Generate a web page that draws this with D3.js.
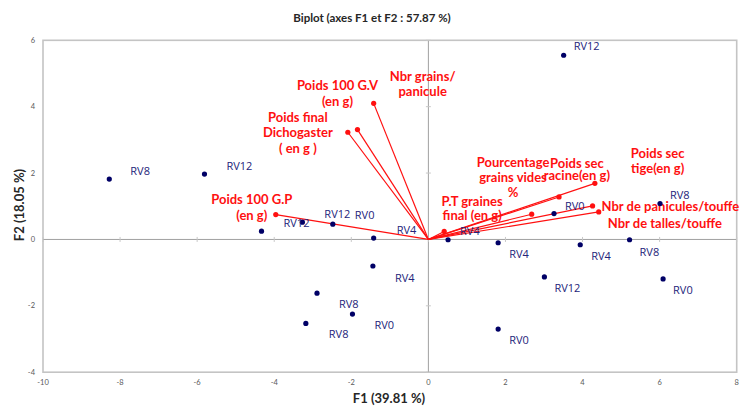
<!DOCTYPE html>
<html><head><meta charset="utf-8">
<script src="https://cdn.jsdelivr.net/npm/d3@7"></script>
<style>body{margin:0;background:#fff}svg{display:block}</style>
</head><body>
<svg id="chart" width="741" height="406"></svg>
<script>
// ---- data ----
const obsLabels = ["RV8","RV12","RV12","RV12","RV0","RV4","RV4","RV8","RV0","RV8",
                   "RV4","RV4","RV4","RV8","RV12","RV0","RV0","RV8","RV0","RV12"];
const obsF1 = [-8.28,-5.81,-4.33,-3.27,-2.48,-1.42,-1.44,-2.89,-1.97,-3.18,
               0.51,1.81,3.94,5.22,3.01,6.09,1.81,6.01,3.26,3.51];
const obsF2 = [1.82,1.97,0.25,0.52,0.46,0.04,-0.80,-1.62,-2.25,-2.53,
               -0.01,-0.10,-0.16,-0.01,-1.13,-1.19,-2.70,1.08,0.78,5.55];
const varLabels = [
  ["Nbr grains/","panicule"],
  ["Poids 100 G.V","(en g)"],
  ["Poids final","Dichogaster","( en g )"],
  ["Poids 100 G.P","(en g)"],
  ["P.T graines","final (en g)"],
  ["Pourcentage","grains vides","%"],
  ["Poids sec","racine(en g)"],
  ["Poids sec","tige(en g)"],
  ["Nbr de panicules/touffe"],
  ["Nbr de talles/touffe"]
];
const varF1 = [-1.42,-1.84,-2.09,-3.96,0.41,3.39,4.32,2.68,4.26,4.42];
const varF2 = [4.10,3.31,3.23,0.75,0.24,1.28,1.69,0.76,1.01,0.83];
const xTicks = [-10,-8,-6,-4,-2,0,2,4,6,8];
const yTicks = [-4,-2,0,2,4,6];
const title = "Biplot (axes F1 et F2 : 57.87 %)";
const xTitle = "F1 (39.81 %)";
const yTitle = "F2 (18.05 %)";

// ---- layout (label placement offsets, px) ----
const obsLabelOff = [[21,-8],[22,-8],[22,-8],[22,-8],[22,-9],[23,-8],[22,12],[22,11],[22,11],[23,11],
                     [12,-9],[11,11],[11,11],[10,12],[10,11],[10,11],[11,11],[10,-9],[11,-8],[10,-9]];
// [dx, dy of first line, anchor, line spacing]
const varLabelOff = [[49,-27,"middle",15],[-20,-44,"middle",16],[-50,-15,"middle",15.5],[-24,-15,"middle",16],
                     [28,-30,"middle",14.5],[-46,-34,"middle",15],[-18,-20,"middle",12.5],[126,-61,"middle",15],
                     [9,1,"start",15],[9,12,"start",15]];

const svg = d3.select("#chart");
const x = d3.scaleLinear().domain([-10,8]).range([43,736.7]);
const y = d3.scaleLinear().domain([-4,6]).range([372.2,40.3]);

// frame
svg.append("rect").attr("x",x(-10)).attr("y",y(6)).attr("width",x(8)-x(-10)).attr("height",y(-4)-y(6))
  .attr("fill","none").attr("stroke","#c4c4c4").attr("stroke-width",1.6);

// zero lines
svg.append("line").attr("x1",x(-10)).attr("x2",x(8)).attr("y1",y(0)).attr("y2",y(0)).attr("stroke","#a0a0a0").attr("stroke-width",1);
svg.append("line").attr("x1",x(0)).attr("x2",x(0)).attr("y1",y(-4)).attr("y2",y(6)).attr("stroke","#a0a0a0").attr("stroke-width",1);

// tick marks along zero lines
svg.append("g").selectAll("line").data(xTicks).join("line")
  .attr("x1",d=>x(d)).attr("x2",d=>x(d)).attr("y1",y(0)-2.5).attr("y2",y(0)+2.5).attr("stroke","#c8c8c8");
svg.append("g").selectAll("line").data(yTicks).join("line")
  .attr("x1",x(0)-2.5).attr("x2",x(0)+2.5).attr("y1",d=>y(d)).attr("y2",d=>y(d)).attr("stroke","#c8c8c8");

// tick labels
svg.append("g").selectAll("text").data(xTicks).join("text")
  .attr("x",d=>x(d)).attr("y",385).attr("text-anchor","middle")
  .attr("font-family","Lato, sans-serif").attr("font-size",7.5).attr("fill","#595959").text(d=>d);
svg.append("g").selectAll("text").data(yTicks).join("text")
  .attr("x",35).attr("y",d=>y(d)+2.5).attr("text-anchor","end")
  .attr("font-family","Lato, sans-serif").attr("font-size",7.5).attr("fill","#595959").text(d=>d);

// titles
svg.append("text").attr("x",372).attr("y",22).attr("text-anchor","middle")
  .attr("font-family","Lato, sans-serif").attr("font-weight","bold").attr("font-size",11.5).attr("fill","#262626").text(title);
svg.append("text").attr("x",389).attr("y",403).attr("text-anchor","middle")
  .attr("font-family","Lato, sans-serif").attr("font-weight","bold").attr("font-size",13).attr("fill","#262626").text(xTitle);
svg.append("text").attr("transform","translate(24,205) rotate(-90)").attr("text-anchor","middle")
  .attr("font-family","Lato, sans-serif").attr("font-weight","bold").attr("font-size",13).attr("fill","#262626").text(yTitle);

// vectors
const red = "#ff1010";
const vg = svg.append("g");
varF1.forEach((v,i)=>{
  vg.append("line").attr("x1",x(0)).attr("y1",y(0)).attr("x2",x(v)).attr("y2",y(varF2[i]))
    .attr("stroke",red).attr("stroke-width",1.2);
  vg.append("circle").attr("cx",x(v)).attr("cy",y(varF2[i])).attr("r",2.6).attr("fill",red);
});

// observations
const og = svg.append("g");
obsF1.forEach((v,i)=>{
  og.append("circle").attr("cx",x(v)).attr("cy",y(obsF2[i])).attr("r",2.6).attr("fill","#000066");
});
obsF1.forEach((v,i)=>{
  og.append("text").attr("x",x(v)+obsLabelOff[i][0]).attr("y",y(obsF2[i])+obsLabelOff[i][1]+4)
    .attr("font-family","Open Sans, sans-serif").attr("font-size",11).attr("fill","#24247a").text(obsLabels[i]);
});

// variable labels
varF1.forEach((v,i)=>{
  const [dx,dy,anchor,ls] = varLabelOff[i];
  const t = vg.append("text").attr("text-anchor",anchor)
    .attr("font-family","Lato, sans-serif").attr("font-weight","bold").attr("font-size",13).attr("fill",red);
  varLabels[i].forEach((line,j)=>{
    t.append("tspan").attr("x",x(v)+dx).attr("y",y(varF2[i])+dy+4.5+j*ls).text(line);
  });
});
</script>
</body></html>
